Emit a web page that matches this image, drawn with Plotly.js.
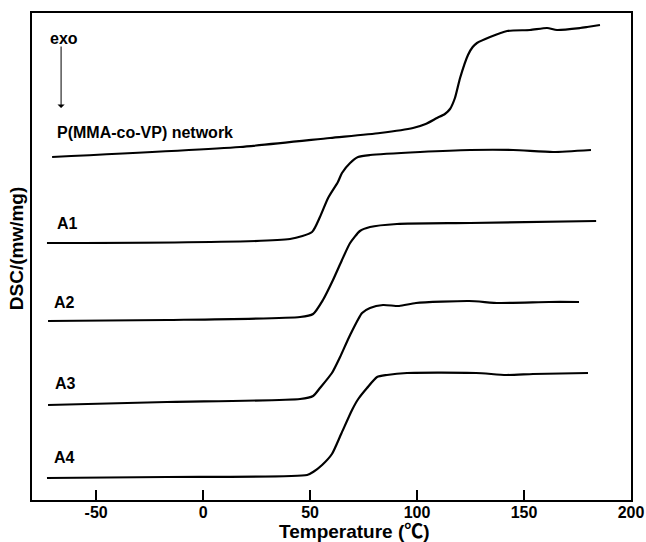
<!DOCTYPE html>
<html><head><meta charset="utf-8">
<script src="https://cdn.plot.ly/plotly-3.0.1.min.js"></script>
<style>body{margin:0;padding:0;background:#fff}#chart{width:646px;height:542px}</style>
</head><body><div id="chart"></div>
<script>
// Temperature (°C) and DSC signal (arbitrary offset units)
const netT = [-70.6, 17.2, 59.3, 82.7, 98.1, 104.0, 109.3, 113.0, 115.4, 117.7, 120.1, 123.8, 126.0, 128.0, 134.1, 142.1, 152.8, 160.8, 165.4, 176.2, 179.5, 185.5];
const netY = [343, 353, 362, 367, 372, 376, 382, 386, 391, 402, 422, 445, 453, 457, 463, 469, 470, 472, 470, 472, 473, 475];

const a1T = [-73.0, 40.6, 50.9, 54.6, 58.4, 63.0, 64.9, 68.7, 72.4, 78.0, 101.4, 124.8, 144.9, 163.6, 181.3];
const a1Y = [257, 261, 268, 283, 302, 318, 327, 337, 343, 345, 348, 350, 350, 348, 350];

const a2T = [-72.5, -16.9, 45.3, 51.4, 56.0, 60.7, 64.9, 68.7, 73.3, 78.0, 90.6, 124.8, 183.7];
const a2Y = [179, 180, 183, 186, 200, 220, 240, 257, 269, 273, 276, 277, 279];

const a3T = [-72.5, -16.9, 45.3, 51.4, 54.6, 60.2, 64.0, 68.7, 74.3, 78.0, 84.1, 91.6, 99.5, 124.3, 138.3, 161.7, 175.7];
const a3Y = [95, 98, 101, 104, 112, 127, 143, 165, 187, 192, 195, 194, 197, 199, 197, 198, 198];

const a4T = [-73.0, -16.9, 48.6, 51.4, 55.6, 60.2, 64.5, 69.6, 72.5, 76.6, 81.3, 85.9, 95.3, 127.6, 141.6, 154.2, 179.9];
const a4Y = [22, 23, 25, 28, 35, 46, 66, 90, 101, 112, 123, 125, 127, 127, 125, 126, 127];

const seriesNames = ["P(MMA-co-VP) network", "A1", "A2", "A3", "A4"];
const xTicks = [-50, 0, 50, 100, 150, 200];
const xTitle = "Temperature (℃)";
const yTitle = "DSC/(mw/mg)";

const FONT = "Liberation Sans, Arial, Noto Sans CJK SC, sans-serif";
const line = {color: "#000", width: 2.2, shape: "spline", smoothing: 0.6};
const tr = (x, y, n) => ({x: x, y: y, name: n, mode: "lines", type: "scatter", line: line, hoverinfo: "skip"});
const data = [tr(netT, netY, seriesNames[0]), tr(a1T, a1Y, seriesNames[1]), tr(a2T, a2Y, seriesNames[2]), tr(a3T, a3Y, seriesNames[3]), tr(a4T, a4Y, seriesNames[4])];

const lab = (text, x, y, size) => ({text: text, x: x, y: y, xref: "x", yref: "y", xanchor: "left", yanchor: "middle", showarrow: false,
  font: {family: FONT, size: size || 16, color: "#000", weight: "bold"}});

const layout = {
  width: 646, height: 542,
  margin: {l: 32, r: 15, t: 13, b: 42},
  paper_bgcolor: "#fff", plot_bgcolor: "#fff",
  showlegend: false,
  xaxis: {range: [-80, 200], tickvals: xTicks, ticktext: xTicks.map(String), ticks: "inside", ticklen: 10, tickwidth: 2, tickcolor: "#000",
    showline: true, linewidth: 2, linecolor: "#000", mirror: true, showgrid: false, zeroline: false, ticklabelstandoff: -3,
    tickfont: {family: FONT, size: 16, color: "#000", weight: "bold"}},
  yaxis: {range: [0, 487], showticklabels: false, ticks: "", showline: true, linewidth: 2, linecolor: "#000", mirror: true, showgrid: false, zeroline: false},
  annotations: [
    lab(seriesNames[0], -69.3, 368),
    lab(seriesNames[1], -69.3, 277),
    lab(seriesNames[2], -70.5, 198),
    lab(seriesNames[3], -70.0, 117),
    lab(seriesNames[4], -70.5, 43),
    lab("exo", -72.5, 462, 16),
    {x: -66.4, y: 392, ax: -66.4, ay: 455, xref: "x", yref: "y", axref: "x", ayref: "y", text: "", showarrow: true,
      arrowhead: 1, arrowsize: 1.2, arrowwidth: 1, arrowcolor: "#000"},
    {text: xTitle, xref: "paper", yref: "paper", x: 0.539, y: -0.064, xanchor: "center", yanchor: "middle", showarrow: false,
      font: {family: FONT, size: 19, color: "#000", weight: "bold"}},
    {text: yTitle, xref: "paper", yref: "paper", x: -0.0267, y: 0.517, xanchor: "center", yanchor: "middle", textangle: -90, showarrow: false,
      font: {family: FONT, size: 19, color: "#000", weight: "bold"}}
  ]
};
Plotly.newPlot("chart", data, layout, {staticPlot: true, displayModeBar: false});
</script></body></html>
